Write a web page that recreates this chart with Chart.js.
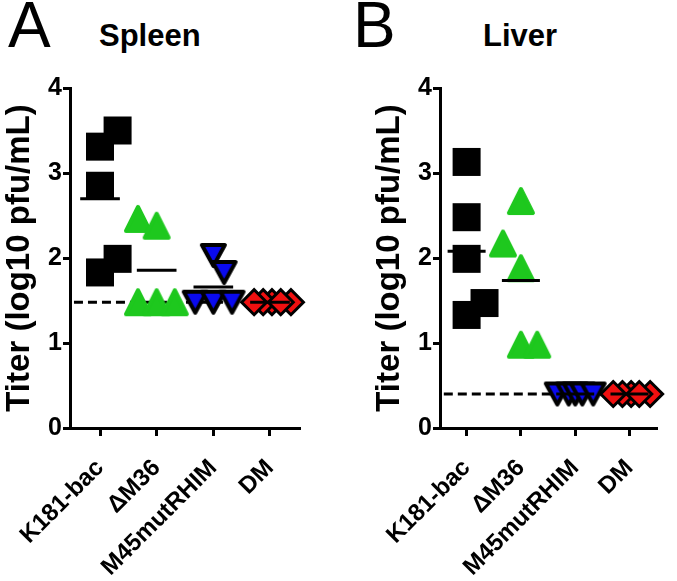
<!DOCTYPE html>
<html lang="en">
<head>
<meta charset="UTF-8">
<title>Titer spleen / liver</title>
<script src="https://cdn.jsdelivr.net/npm/chart.js@4.4.0/dist/chart.umd.min.js"></script>
<style>
    body { margin: 0; background: #fff; width: 677px; height: 581px; position: relative; overflow: hidden;
           font-family: "Liberation Sans", Arial, sans-serif; }
    .letter { position: absolute; font-size: 64px; line-height: 1; }
    .organ { position: absolute; font-size: 31px; font-weight: bold; line-height: 1; }
    canvas { position: absolute; top: 0; }
</style>
</head>
<body>
<div class="letter" style="left:8px;top:-7px">A</div>
<div class="organ" style="left:99px;top:20px">Spleen</div>
<div class="letter" style="left:353px;top:-7px">B</div>
<div class="organ" style="left:483px;top:20px">Liver</div>
<canvas id="spleen" width="370" height="581" style="left:0"></canvas>
<canvas id="liver" width="307" height="581" style="left:370px"></canvas>

<script>
    const categories = ['K181-bac', '\u0394M36', 'M45mutRHIM', 'DM'];
    const yTicks = [0, 1, 2, 3, 4];

    // titers (log10 pfu/mL)
    const spleenK181 = [3.50, 3.31, 2.85, 1.99, 1.83];
    const spleenDM36 = [2.46, 2.38, 1.48, 1.48, 1.48];
    const spleenM45 = [1.48, 1.48, 1.48, 2.03, 1.83];
    const spleenDM = [1.48, 1.48, 1.48, 1.48, 1.48];
    const spleenLimit = 1.48;

    const liverK181 = [3.13, 2.48, 1.99, 1.47, 1.33];
    const liverDM36 = [2.67, 2.17, 1.88, 0.98, 0.98];
    const liverM45 = [0.4, 0.4, 0.4, 0.4, 0.4];
    const liverDM = [0.4, 0.4, 0.4, 0.4, 0.4];
    const liverLimit = 0.4;

    // horizontal scatter of the dots inside a column (category units)
    const spleenK181Jitter = [0.31, 0, 0, 0.31, 0];
    const spleenDM36Jitter = [-0.33, 0, -0.33, 0, 0.32];
    const spleenM45Jitter = [-0.32, 0, 0.33, 0, 0.19];
    const spleenDMJitter = [0.37, 0.035, -0.12, -0.28, 0.19];
    const liverK181Jitter = [0, 0, 0, 0.33, 0];
    const liverDM36Jitter = [0, -0.33, 0, 0, 0.3];
    const liverM45Jitter = [-0.33, -0.12, 0, 0.13, 0.33];
    const liverDMJitter = [0.38, 0.03, -0.13, -0.3, 0.18];

    const FONT = '"Liberation Sans", Arial, sans-serif';

    function triangleSprite(w, h, fill, stroke, lw, down) {
        const c = document.createElement('canvas');
        const pad = Math.ceil(lw) + 2;
        c.width = w + 2 * pad;
        c.height = h + 2 * pad;
        const g = c.getContext('2d');
        const cx = c.width / 2, cy = c.height / 2;
        const s = down ? -1 : 1;
        g.beginPath();
        g.moveTo(cx, cy - s * h / 2);
        g.lineTo(cx + w / 2, cy + s * h / 2);
        g.lineTo(cx - w / 2, cy + s * h / 2);
        g.closePath();
        g.fillStyle = fill;
        g.fill();
        g.lineJoin = 'round';
        g.lineWidth = lw;
        g.strokeStyle = stroke;
        g.stroke();
        return c;
    }

    const greenTri = triangleSprite(24, 24, '#1ec81e', '#1ec81e', 4, false);
    const blueTri = triangleSprite(23, 21, '#0a0aee', '#000', 4, true);

    function points(values, cat, jitter) {
        return values.map((v, i) => ({x: cat + jitter[i], y: v}));
    }
    function mean(values) {
        return values.reduce((a, b) => a + b, 0) / values.length;
    }
    function meanLine(values, cat) {
        const m = mean(values);
        return {
            type: 'line', data: [{x: cat - 0.35, y: m}, {x: cat + 0.35, y: m}],
            borderColor: '#000', borderWidth: 3, pointRadius: 0, order: 0, clip: false
        };
    }

    function makePanel(id, groups, jitters, limit, xMin, xMax, padRight) {
        const datasets = [];
        groups.forEach((g, i) => datasets.push(meanLine(g, i)));
        datasets.push({
            data: points(groups[0], 0, jitters[0]), pointStyle: 'rect', pointRadius: 19.8,
            pointBackgroundColor: '#000', pointBorderWidth: 0, order: 4, clip: false
        });
        datasets.push({
            data: points(groups[1], 1, jitters[1]), pointStyle: greenTri, pointRadius: 14,
            order: 3, clip: false
        });
        datasets.push({
            data: points(groups[2], 2, jitters[2]), pointStyle: blueTri, pointRadius: 14,
            order: 2, clip: false
        });
        datasets.push({
            data: points(groups[3], 3, jitters[3]), pointStyle: 'rectRot', pointRadius: 12.5,
            pointBackgroundColor: '#f01010', pointBorderColor: '#000', pointBorderWidth: 3,
            order: 1, clip: false
        });
        datasets.push({
            type: 'line', data: [{x: xMin + 0.07, y: limit}, {x: xMax, y: limit}],
            borderColor: '#000', borderWidth: 3, borderDash: [9, 5], pointRadius: 0, order: 10
        });

        return new Chart(document.getElementById(id), {
            type: 'scatter',
            data: {datasets: datasets},
            options: {
                responsive: false,
                animation: false,
                events: [],
                layout: {padding: {top: 88, left: 0, right: padRight, bottom: 0}},
                plugins: {legend: {display: false}, tooltip: {enabled: false}},
                scales: {
                    x: {
                        type: 'linear', min: xMin, max: xMax,
                        afterBuildTicks: s => { s.ticks = categories.map((c, i) => ({value: i})); },
                        afterFit: s => { s.height = 153; s.paddingLeft = 0; s.paddingRight = 0; },
                        ticks: {
                            callback: v => categories[v], minRotation: 45, maxRotation: 45,
                            padding: 18, color: '#000', font: {family: FONT, size: 24, weight: 'bold'}
                        },
                        grid: {drawOnChartArea: false, tickLength: 8, tickWidth: 3, tickColor: '#000'},
                        border: {color: '#000', width: 3}
                    },
                    y: {
                        min: 0, max: 4,
                        afterBuildTicks: s => { s.ticks = yTicks.map(v => ({value: v})); },
                        afterFit: s => { s.width = 70; },
                        ticks: {padding: 1, color: '#000', font: {family: FONT, size: 25, weight: 'bold'}},
                        grid: {drawOnChartArea: false, tickLength: 7, tickWidth: 3, tickColor: '#000'},
                        border: {color: '#000', width: 3},
                        title: {
                            display: true, text: 'Titer (log10 pfu/mL)', color: '#000',
                            padding: {top: 0, bottom: 0},
                            font: {family: FONT, size: 33, weight: 'bold'}
                        }
                    }
                }
            }
        });
    }

    makePanel('spleen', [spleenK181, spleenDM36, spleenM45, spleenDM],
        [spleenK181Jitter, spleenDM36Jitter, spleenM45Jitter, spleenDMJitter],
        spleenLimit, -0.53, 3.53, 70);
    makePanel('liver', [liverK181, liverDM36, liverM45, liverDM],
        [liverK181Jitter, liverDM36Jitter, liverM45Jitter, liverDMJitter],
        liverLimit, -0.49, 3.51, 9);
</script>
</body>
</html>
